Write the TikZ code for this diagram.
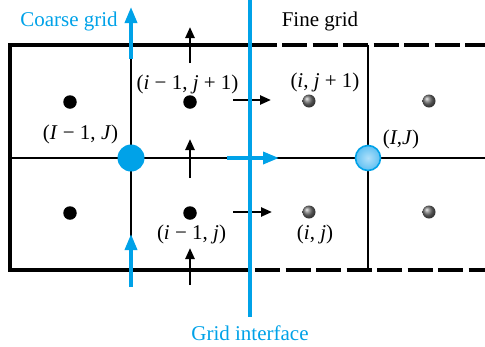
\documentclass[tikz,border=0pt]{standalone}
\usepackage{fontspec}
\setmainfont{Liberation Serif}
\usetikzlibrary{arrows.meta}
\definecolor{ablue}{RGB}{0,162,232}
\definecolor{lblue}{RGB}{175,224,250}
\definecolor{mblue}{RGB}{95,192,242}
\begin{document}
\begin{tikzpicture}[x=1pt,y=-1pt,
  frameline/.style={line width=4pt},
  gridline/.style={line width=1.6pt},
  dashedframe/.style={line width=4pt,dash pattern=on 25pt off 5.5pt},
  blkarrow/.style={line width=2.4pt,-{Triangle[length=11pt,width=9pt]}},
  bluearrow/.style={line width=3.5pt,ablue,-{Triangle[length=16pt,width=12pt]}},
  interface/.style={line width=3.5pt,ablue},
  cdot/.style={circle,fill=black,minimum size=13.5pt,inner sep=0pt},
  fdot/.style={circle,ball color=black!55,minimum size=13pt,inner sep=0pt},
  lbl/.style={font=\fontsize{21pt}{24pt}\selectfont,inner sep=0pt,anchor=base},
]
\useasboundingbox (0,0) rectangle (485,346);

% grid lines
\coordinate (mL) at (10,158);
\coordinate (mR) at (485,158);
\coordinate (cT) at (131,45);
\coordinate (cB) at (131,270);
\coordinate (fT) at (368,45);
\coordinate (fB) at (368,270);
\draw[gridline] (mL) -- (mR);
\draw[gridline] (cT) -- (cB);
\draw[gridline] (fT) -- (fB);

% frame
\coordinate (tS) at (277,45);
\coordinate (tl) at (10,45);
\coordinate (bl) at (10,270);
\coordinate (bS) at (250,270);
\draw[frameline] (tS) -- (tl) -- (bl) -- (bS);
\coordinate (tD) at (282,45);
\coordinate (tE) at (485,45);
\coordinate (bD) at (255,270);
\coordinate (bE) at (485,270);
\draw[dashedframe] (tD) -- (tE);
\draw[dashedframe] (bD) -- (bE);

% coarse cell centres
\node[cdot] (c1) at (70,102) {};
\node[cdot] (c2) at (190,102) {};
\node[cdot] (c3) at (70,213) {};
\node[cdot] (c4) at (190,213) {};
% fine cell centres
\node[fdot] (f1) at (309,101) {};
\node[fdot] (f2) at (429,101) {};
\node[fdot] (f3) at (309,212) {};
\node[fdot] (f4) at (429,212) {};

% black flux arrows
\coordinate (a1s) at (190,63);  \coordinate (a1e) at (190,27);
\coordinate (a2s) at (190,178); \coordinate (a2e) at (190,139);
\coordinate (a3s) at (190,285); \coordinate (a3e) at (190,248);
\coordinate (a4s) at (233,100); \coordinate (a4e) at (271,100);
\coordinate (a5s) at (233,212); \coordinate (a5e) at (272,212);
\draw[blkarrow] (a1s) -- (a1e);
\draw[blkarrow] (a2s) -- (a2e);
\draw[blkarrow] (a3s) -- (a3e);
\draw[blkarrow] (a4s) -- (a4e);
\draw[blkarrow] (a5s) -- (a5e);

% grid interface
\coordinate (iT) at (250,0);
\coordinate (iB) at (250,317);
\draw[interface] (iT) -- (iB);

% blue arrows
\coordinate (b1s) at (131,59);  \coordinate (b1e) at (131,7);
\coordinate (b2s) at (131,287); \coordinate (b2e) at (131,234);
\coordinate (b3s) at (227,158); \coordinate (b3e) at (279,158);
\draw[bluearrow] (b1s) -- (b1e);
\draw[bluearrow] (b2s) -- (b2e);
\draw[bluearrow] (b3s) -- (b3e);

% grid nodes
\node[circle,fill=ablue,minimum size=27pt,inner sep=0pt] (IJm) at (131,158) {};
\node[circle,draw=ablue,line width=1.6pt,inner color=lblue,outer color=mblue,minimum size=25pt,inner sep=0pt] (IJ) at (368,158) {};

% labels
\node[lbl,text=ablue] (tcoarse) at (69,26) {Coarse grid};
\node[lbl] (tfine) at (320,26) {Fine grid};
\node[lbl,text=ablue] (tint) at (250,340) {Grid interface};
\node[lbl] (l1) at (187.5,89) {(\textit{i} − 1, \textit{j} + 1)};
\node[lbl] (l2) at (80.5,139) {(\textit{I} − 1, \textit{J})};
\node[lbl] (l3) at (325,87) {(\textit{i}, \textit{j} + 1)};
\node[lbl] (l4) at (401,144) {(\textit{I},\textit{J})};
\node[lbl] (l5) at (191.5,239) {(\textit{i} − 1, \textit{j})};
\node[lbl] (l6) at (315,239) {(\textit{i}, \textit{j})};
\end{tikzpicture}
\end{document}
